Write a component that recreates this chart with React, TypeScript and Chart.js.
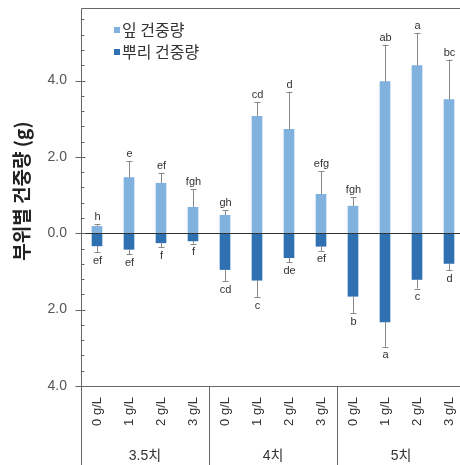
import React, { useEffect, useRef } from 'react';
import { Chart, registerables } from 'chart.js';

Chart.register(...registerables);

const concentrations = ['0 g/L', '1 g/L', '2 g/L', '3 g/L'];
const stages = ['3.5치', '4치', '5치'];
const categories = stages.flatMap(() => concentrations);

const seriesNames = ['잎 건중량', '뿌리 건중량'];
const leafValues = [0.18, 1.46, 1.31, 0.68, 0.47, 3.06, 2.72, 1.02, 0.71, 3.97, 4.39, 3.5];
const leafErrors = [0.06, 0.42, 0.26, 0.47, 0.13, 0.37, 0.99, 0.6, 0.23, 0.97, 0.86, 1.05];
const rootValues = [0.33, 0.42, 0.25, 0.2, 0.95, 1.23, 0.64, 0.34, 1.65, 2.32, 1.21, 0.79];
const rootErrors = [0.16, 0.13, 0.11, 0.07, 0.3, 0.44, 0.12, 0.12, 0.45, 0.65, 0.24, 0.18];
const leafLetters = ['h', 'e', 'ef', 'fgh', 'gh', 'cd', 'd', 'efg', 'fgh', 'ab', 'a', 'bc'];
const rootLetters = ['ef', 'ef', 'f', 'f', 'cd', 'c', 'de', 'ef', 'b', 'a', 'c', 'd'];

const yAxisTitle = '부위별 건중량 (g)';
const yMin = -4;
const yMax = 5.9;
const majorStep = 2;
const minorStep = 0.4;

const LEAF_COLOR = '#80b1df';
const ROOT_COLOR = '#2f70b2';
const FONT = "'Liberation Sans', 'Noto Sans CJK KR', sans-serif";
const KFONT = "'Noto Sans CJK KR', 'Liberation Sans', sans-serif";

const overlayPlugin = {
  id: 'overlay',
  afterDatasetsDraw(chart: any) {
    const ctx = chart.ctx;
    const y = chart.scales.y;
    const area = chart.chartArea;
    const meta0 = chart.getDatasetMeta(0);
    const xs: number[] = meta0.data.map((d: any) => d.x);
    ctx.save();

    // zero line
    ctx.strokeStyle = '#333';
    ctx.lineWidth = 1;
    const y0 = Math.round(y.getPixelForValue(0)) + 0.5;
    ctx.beginPath();
    ctx.moveTo(area.left, y0);
    ctx.lineTo(area.right, y0);
    ctx.stroke();

    // error bars + letters
    ctx.strokeStyle = '#888';
    ctx.fillStyle = '#333';
    ctx.font = `11px ${FONT}`;
    ctx.textAlign = 'center';
    for (let i = 0; i < xs.length; i++) {
      const x = Math.round(xs[i]) + 0.5;
      const lTop = y.getPixelForValue(leafValues[i]);
      const lCap = y.getPixelForValue(leafValues[i] + leafErrors[i]);
      ctx.beginPath();
      ctx.moveTo(x, lTop);
      ctx.lineTo(x, lCap);
      ctx.moveTo(x - 3, Math.round(lCap) + 0.5);
      ctx.lineTo(x + 3, Math.round(lCap) + 0.5);
      ctx.stroke();
      ctx.textBaseline = 'alphabetic';
      ctx.fillText(leafLetters[i], x, lCap - 4);
      const rBot = y.getPixelForValue(-rootValues[i]);
      const rCap = y.getPixelForValue(-(rootValues[i] + rootErrors[i]));
      ctx.beginPath();
      ctx.moveTo(x, rBot);
      ctx.lineTo(x, rCap);
      ctx.moveTo(x - 3, Math.round(rCap) + 0.5);
      ctx.lineTo(x + 3, Math.round(rCap) + 0.5);
      ctx.stroke();
      ctx.textBaseline = 'top';
      ctx.fillText(rootLetters[i], x, rCap + 3);
    }

    // frame lines
    ctx.strokeStyle = '#666';
    ctx.lineWidth = 1;
    const L = Math.round(area.left) + 0.5;
    const T = Math.round(area.top) + 0.5;
    const B = Math.round(area.bottom) + 0.5;
    ctx.beginPath();
    ctx.moveTo(L, T);
    ctx.lineTo(area.right, T);
    ctx.moveTo(L, T);
    ctx.lineTo(L, chart.height);
    ctx.moveTo(L, B);
    ctx.lineTo(area.right, B);
    for (let g = 1; g < stages.length; g++) {
      const k = g * concentrations.length;
      const sx = Math.round((xs[k - 1] + xs[k]) / 2) + 0.5;
      ctx.moveTo(sx, B);
      ctx.lineTo(sx, chart.height);
    }
    ctx.stroke();

    // y ticks
    ctx.beginPath();
    for (let v = yMin; v <= yMax + 1e-6; v += minorStep) {
      const vv = Math.round(v * 10) / 10;
      const py = Math.round(y.getPixelForValue(vv)) + 0.5;
      const major = Math.round(vv * 10) % (majorStep * 10) === 0;
      if (major) {
        ctx.moveTo(L - 6, py);
        ctx.lineTo(L + 4, py);
      } else {
        ctx.moveTo(L, py);
        ctx.lineTo(L + 3, py);
      }
    }
    ctx.stroke();

    // group labels
    ctx.fillStyle = '#333';
    ctx.font = `14px ${FONT}`;
    ctx.textAlign = 'center';
    ctx.textBaseline = 'middle';
    for (let g = 0; g < stages.length; g++) {
      const a = xs[g * concentrations.length];
      const b = xs[(g + 1) * concentrations.length - 1];
      ctx.fillText(stages[g], (a + b) / 2, 456);
    }

    // y axis title
    ctx.save();
    ctx.translate(22, 191);
    ctx.rotate(-Math.PI / 2);
    ctx.font = `bold 19px ${KFONT}`;
    ctx.fillStyle = '#222';
    ctx.textAlign = 'center';
    ctx.textBaseline = 'middle';
    ctx.fillText(yAxisTitle, 0, 0);
    ctx.restore();

    // legend
    const colors = [LEAF_COLOR, ROOT_COLOR];
    ctx.font = `16px ${KFONT}`;
    ctx.textAlign = 'left';
    ctx.textBaseline = 'middle';
    for (let s = 0; s < seriesNames.length; s++) {
      const cy = 30 + s * 22;
      ctx.fillStyle = colors[s];
      ctx.fillRect(114, cy - 3, 6, 6);
      ctx.fillStyle = '#333';
      ctx.fillText(chart.data.datasets[s].label, 122, cy);
    }
    ctx.restore();
  },
};

export default function App() {
  const ref = useRef<HTMLCanvasElement>(null);
  useEffect(() => {
    if (!ref.current) return;
    const chart = new Chart(ref.current, {
      type: 'bar',
      data: {
        labels: categories,
        datasets: [
          { label: seriesNames[0], data: leafValues, backgroundColor: LEAF_COLOR, barThickness: 10 },
          { label: seriesNames[1], data: rootValues.map((v) => -v), backgroundColor: ROOT_COLOR, barThickness: 10 },
        ],
      },
      options: {
        responsive: false,
        animation: false,
        layout: { padding: { top: 8, right: 5, left: 0, bottom: 0 } },
        plugins: { legend: { display: false }, tooltip: { enabled: false } },
        scales: {
          x: {
            stacked: true,
            grid: { display: false, drawTicks: false },
            border: { display: false },
            ticks: {
              minRotation: 90,
              maxRotation: 90,
              padding: 11,
              color: '#333',
              font: { size: 13, family: FONT },
            },
            afterFit: (scale: any) => {
              scale.height = 79;
              scale.paddingLeft = 0;
              scale.paddingRight = 0;
            },
          },
          y: {
            stacked: true,
            min: yMin,
            max: yMax,
            grid: { display: false, drawTicks: false },
            border: { display: false },
            ticks: {
              stepSize: minorStep,
              autoSkip: false,
              padding: 14,
              color: '#555',
              font: { size: 14, family: FONT },
              callback: (v: any) => {
                const t = Math.round(Number(v) * 10);
                return t % (majorStep * 10) === 0 ? Math.abs(Number(v)).toFixed(1) : '';
              },
            },
            afterFit: (scale: any) => {
              scale.width = 81;
              scale.paddingTop = 0;
              scale.paddingBottom = 0;
            },
          },
        },
      },
      plugins: [overlayPlugin],
    });
    return () => chart.destroy();
  }, []);
  return (
    <div style={{ position: 'fixed', left: 0, top: 0, width: 460, height: 465, overflow: 'hidden', background: '#fff' }}>
      <canvas ref={ref} width={470} height={465} style={{ display: 'block' }} />
    </div>
  );
}
